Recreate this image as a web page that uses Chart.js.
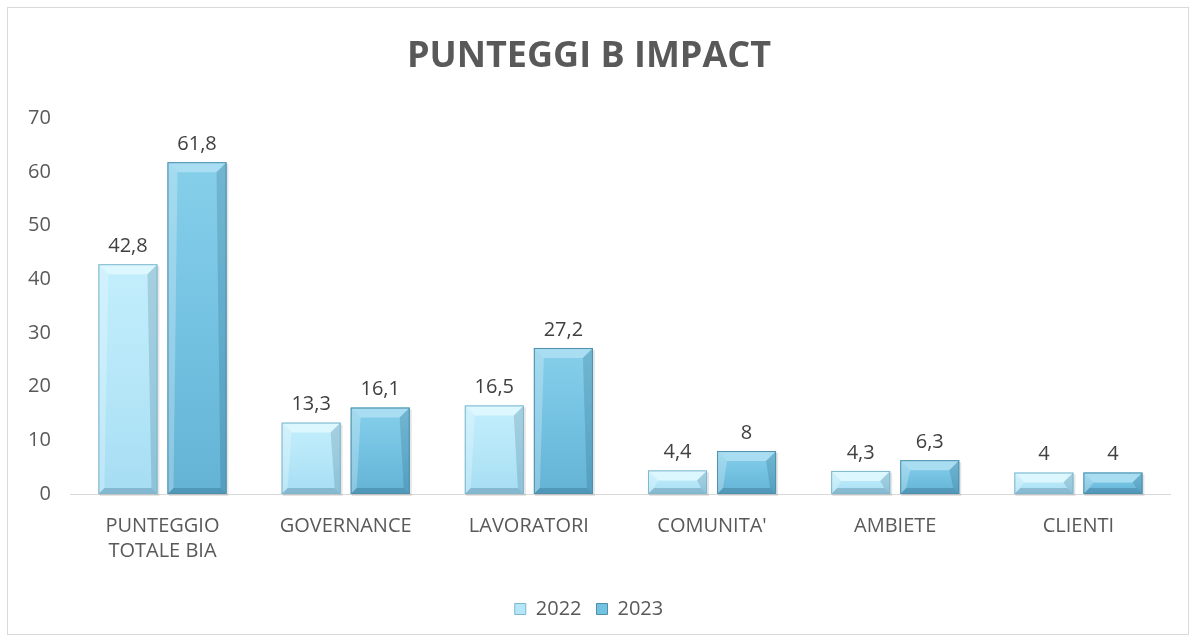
<!DOCTYPE html>
<html>
<head>
<meta charset="utf-8">
<script src="https://cdn.jsdelivr.net/npm/chart.js@4.4.0/dist/chart.umd.min.js"></script>
<style>
  body { margin: 0; background: #fff; }
  #box {
    position: absolute; left: 7px; top: 7px; width: 1180px; height: 626px;
    border: 1px solid #d9d9d9; background: #fff;
  }
  #box canvas { display: block; }
</style>
</head>
<body>
<div id="box"><canvas id="grafico" width="1180" height="626"></canvas></div>
<script>
var categorie = [['PUNTEGGIO', 'TOTALE BIA'], 'GOVERNANCE', 'LAVORATORI', "COMUNITA'", 'AMBIETE', 'CLIENTI'];
var valori2022 = [42.8, 13.3, 16.5, 4.4, 4.3, 4];
var valori2023 = [61.8, 16.1, 27.2, 8, 6.3, 4];
var anni = ['2022', '2023'];

var FONT = '"Open Sans", "Noto Sans", sans-serif';

var colori = [
  { top: '#c3eefc', mid: '#b6e7f8', low: '#a6ddf3', light: '#ddf7fe', edge: '#7fb7cc' },
  { top: '#86cfea', mid: '#74c2e2', low: '#64b3d5', light: '#a9def2', edge: '#4f8fab' }
];

function virgola(v) {
  return String(v).replace('.', ',');
}

// effetto bisello sulle barre + etichette dei valori
var bisello = {
  id: 'bisello',
  afterDatasetsDraw: function (chart) {
    var ctx = chart.ctx;
    chart.data.datasets.forEach(function (ds, i) {
      var meta = chart.getDatasetMeta(i);
      var c = colori[i];
      meta.data.forEach(function (bar, j) {
        var x0 = bar.x - bar.width / 2, x1 = bar.x + bar.width / 2;
        var y0 = bar.y, y1 = bar.base;
        var b = Math.min(10, (y1 - y0) / 2);
        var s = 6;
        ctx.save();
        // ombra
        ctx.fillStyle = 'rgba(0,0,0,0.10)';
        ctx.fillRect(x0 + 1, y0 + 2, x1 - x0 + 1, y1 - y0);
        // corpo
        var g = ctx.createLinearGradient(0, y0, 0, y1);
        g.addColorStop(0, c.top);
        g.addColorStop(0.5, c.mid);
        g.addColorStop(1, c.low);
        ctx.fillStyle = g;
        ctx.fillRect(x0, y0, x1 - x0, y1 - y0);
        // faccia superiore chiara
        ctx.fillStyle = c.light;
        ctx.beginPath();
        ctx.moveTo(x0, y0); ctx.lineTo(x1, y0); ctx.lineTo(x1 - b, y0 + b); ctx.lineTo(x0 + b, y0 + b);
        ctx.closePath(); ctx.fill();
        // lato sinistro
        ctx.fillStyle = 'rgba(255,255,255,0.25)';
        ctx.beginPath();
        ctx.moveTo(x0, y0); ctx.lineTo(x0 + b, y0 + b); ctx.lineTo(x0 + s, y1 - s); ctx.lineTo(x0, y1);
        ctx.closePath(); ctx.fill();
        // lato destro
        ctx.fillStyle = 'rgba(0,40,70,0.15)';
        ctx.beginPath();
        ctx.moveTo(x1, y0); ctx.lineTo(x1 - b, y0 + b); ctx.lineTo(x1 - s, y1 - s); ctx.lineTo(x1, y1);
        ctx.closePath(); ctx.fill();
        // fondo
        ctx.fillStyle = 'rgba(0,40,70,0.20)';
        ctx.beginPath();
        ctx.moveTo(x0, y1); ctx.lineTo(x0 + s, y1 - s); ctx.lineTo(x1 - s, y1 - s); ctx.lineTo(x1, y1);
        ctx.closePath(); ctx.fill();
        // bordo
        ctx.strokeStyle = c.edge;
        ctx.lineWidth = 1;
        ctx.strokeRect(x0 + 0.5, y0 + 0.5, x1 - x0 - 1, y1 - y0 - 1);
        // etichetta
        ctx.fillStyle = '#404040';
        ctx.font = '20px ' + FONT;
        ctx.textAlign = 'center';
        ctx.textBaseline = 'bottom';
        ctx.fillText(virgola(ds.data[j]), bar.x, y0 - 8);
        ctx.restore();
      });
    });
  }
};

new Chart(document.getElementById('grafico'), {
  type: 'bar',
  data: {
    labels: categorie,
    datasets: [{
      label: anni[0],
      data: valori2022,
      backgroundColor: colori[0].mid,
      borderColor: colori[0].edge,
      borderWidth: 1
    }, {
      label: anni[1],
      data: valori2023,
      backgroundColor: colori[1].mid,
      borderColor: colori[1].edge,
      borderWidth: 1
    }]
  },
  options: {
    responsive: false,
    animation: false,
    layout: { padding: { left: 0, right: 18, top: 8, bottom: 5 } },
    datasets: { bar: { categoryPercentage: 0.754, barPercentage: 0.855 } },
    scales: {
      x: {
        grid: { display: false, drawTicks: false },
        border: { color: '#d9d9d9', width: 1 },
        ticks: { color: '#595959', font: { size: 20, family: FONT, lineHeight: 1.25 }, padding: 20, maxRotation: 0 }
      },
      y: {
        min: 0, max: 70,
        ticks: { stepSize: 10, color: '#595959', font: { size: 20, family: FONT }, padding: 20 },
        grid: { display: false, drawTicks: false },
        border: { display: false }
      }
    },
    plugins: {
      title: {
        display: true,
        text: 'PUNTEGGI B IMPACT',
        color: '#595959',
        font: { size: 36, weight: 'bold', family: FONT },
        padding: { top: 19, bottom: 40 }
      },
      legend: {
        position: 'bottom',
        labels: {
          color: '#595959',
          font: { size: 20, family: FONT },
          boxWidth: 11, boxHeight: 11, padding: 15
        }
      },
      tooltip: { enabled: false }
    }
  },
  plugins: [bisello]
});
</script>
</body>
</html>
